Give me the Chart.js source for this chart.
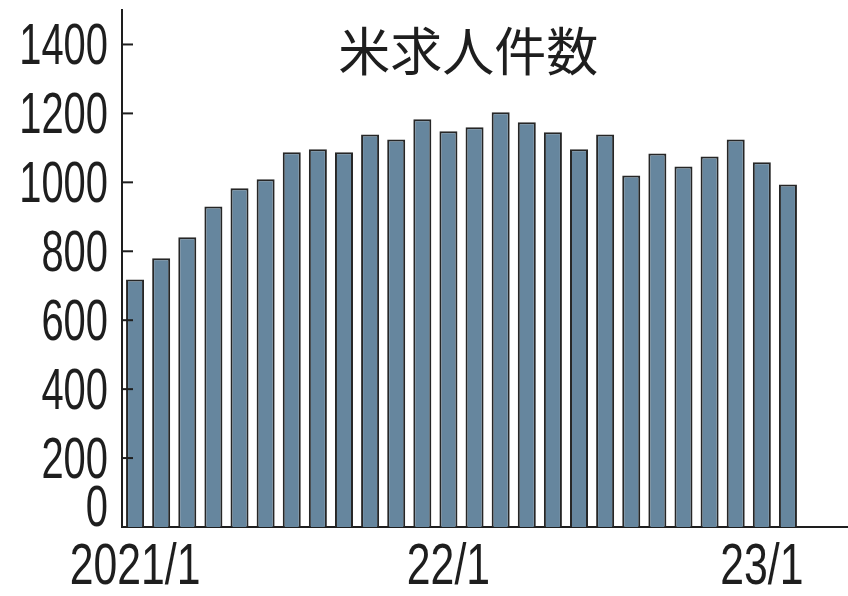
<!DOCTYPE html>
<html lang="ja">
<head>
    <meta charset="UTF-8">
    <title>米求人件数</title>
    <style>
        body { margin: 0; background: #fff; }
        #wrap { width: 848px; height: 596px; }
    </style>
</head>
<body>
    <div id="wrap"><canvas id="job_openings_chart"></canvas></div>
</body>
<script src="https://cdn.jsdelivr.net/npm/chart.js@4.4.0/dist/chart.umd.min.js"></script>
<script>
    // monthly US job openings (万件), 2021/1 .. 2023/2
    const months = [
        '2021/1', '2021/2', '2021/3', '2021/4', '2021/5', '2021/6',
        '2021/7', '2021/8', '2021/9', '2021/10', '2021/11', '2021/12',
        '2022/1', '2022/2', '2022/3', '2022/4', '2022/5', '2022/6',
        '2022/7', '2022/8', '2022/9', '2022/10', '2022/11', '2022/12',
        '2023/1', '2023/2'
    ];
    const openings = [
        718, 780, 841, 930, 983, 1009,
        1087, 1096, 1087, 1139, 1124, 1183,
        1148, 1160, 1203, 1174, 1145, 1096,
        1139, 1020, 1084, 1046, 1075, 1124,
        1058, 994
    ];
    const xTickLabels = { '2021/1': '2021/1', '2022/1': '22/1', '2023/1': '23/1' };
    const yTicks = [0, 200, 400, 600, 800, 1000, 1200, 1400];
    const chartTitle = '米求人件数';

    const ink = '#1e1e1e';
    const numFont = "57px 'Liberation Sans', Arial, sans-serif";

    // the axis numbers in the original are a narrow face; no narrow font is installed,
    // so squeeze Liberation Sans horizontally
    function narrowText(ctx, text, x, y, align, squeeze) {
        ctx.save();
        ctx.translate(x, y);
        ctx.scale(squeeze, 1);
        ctx.textAlign = align;
        ctx.textBaseline = 'alphabetic';
        ctx.fillText(text, 0, 0);
        ctx.restore();
    }

    const extras = {
        id: 'extras',
        afterDraw(chart) {
            const { ctx, chartArea, scales } = chart;
            const xs = scales.x, ys = scales.y;
            const y0 = ys.getPixelForValue(0);
            ctx.save();
            ctx.strokeStyle = ink;
            ctx.fillStyle = ink;
            ctx.lineWidth = 2;

            // baseline runs on past the last bar to the edge
            ctx.beginPath();
            ctx.moveTo(chartArea.right - 1, y0);
            ctx.lineTo(chart.width, y0);
            ctx.stroke();

            // inward tick marks + y labels
            ctx.font = numFont;
            ys.ticks.forEach(t => {
                const py = ys.getPixelForValue(t.value);
                if (t.value === 0) {
                    narrowText(ctx, '0', ys.right - 14, py - 1, 'right', 0.7);
                    return;
                }
                ctx.beginPath();
                ctx.moveTo(ys.right, py);
                ctx.lineTo(ys.right + 11, py);
                ctx.stroke();
                narrowText(ctx, String(t.value), ys.right - 14, py + 20, 'right', 0.7);
            });

            // x labels
            months.forEach((m, i) => {
                if (xTickLabels[m]) {
                    narrowText(ctx, xTickLabels[m], xs.getPixelForValue(i), y0 + 57, 'center', 0.75);
                }
            });

            ctx.font = "400 52px 'Noto Sans CJK JP', sans-serif";
            ctx.textAlign = 'center';
            ctx.textBaseline = 'middle';
            ctx.fillText(chartTitle, chartArea.left + chartArea.width * 0.51, chartArea.top + 41);
            ctx.restore();
        }
    };

    const ctx = document.getElementById('job_openings_chart').getContext('2d');
    new Chart(ctx, {
        type: 'bar',
        data: {
            labels: months,
            datasets: [{
                label: chartTitle,
                data: openings,
                backgroundColor: '#66869e',
                borderColor: '#262626',
                borderWidth: 2,
                barPercentage: 0.69,
                categoryPercentage: 1
            }]
        },
        options: {
            responsive: true,
            maintainAspectRatio: false,
            animation: false,
            layout: { padding: { top: 10, right: 47, left: 0, bottom: 0 } },
            plugins: {
                legend: { display: false },
                tooltip: { enabled: false }
            },
            scales: {
                x: {
                    afterFit: s => { s.height = 69; },
                    grid: { display: false, drawTicks: false },
                    border: { display: true, color: ink, width: 2 },
                    ticks: { display: false }
                },
                y: {
                    min: 0,
                    max: 1500,
                    afterFit: s => { s.width = 122; },
                    afterBuildTicks: s => { s.ticks = yTicks.map(v => ({ value: v })); },
                    grid: { display: false, drawTicks: false },
                    border: { display: true, color: ink, width: 2 },
                    ticks: { display: false }
                }
            }
        },
        plugins: [extras]
    });
</script>
</html>
